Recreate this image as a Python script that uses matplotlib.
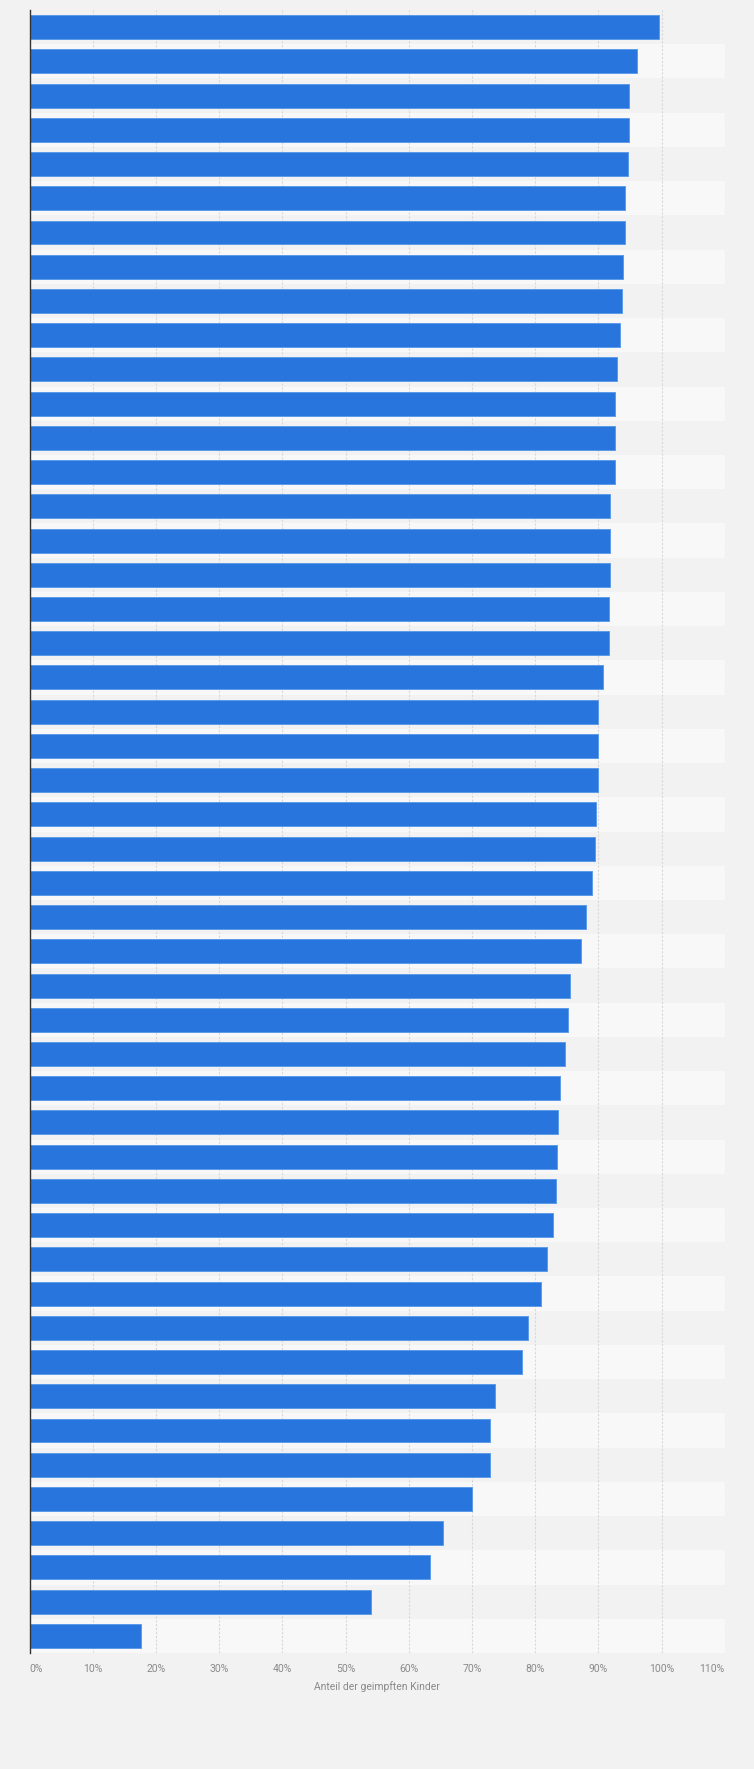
import matplotlib
matplotlib.use("Agg")
import matplotlib.pyplot as plt
import numpy as np

# Share of vaccinated children (%) per category, top to bottom
values = [99.6, 96.2, 94.8, 94.8, 94.65, 94.3, 94.3, 93.9, 93.7, 93.5,
          92.9, 92.6, 92.6, 92.6, 91.8, 91.8, 91.8, 91.65, 91.65, 90.8,
          89.9, 89.9, 89.9, 89.7, 89.4, 88.95, 88.0, 87.2, 85.6, 85.2,
          84.7, 83.9, 83.7, 83.4, 83.3, 82.9, 81.9, 81.0, 78.8, 77.9,
          73.6, 72.8, 72.8, 70.0, 65.5, 63.4, 54.1, 17.6]
x_ticks = [0, 10, 20, 30, 40, 50, 60, 70, 80, 90, 100, 110]
x_tick_labels = [f"{t}%" for t in x_ticks]
x_label = "Anteil der geimpften Kinder"

plt.rcParams['font.family'] = ['Roboto', 'DejaVu Sans']

W, H = 754, 1769
fig = plt.figure(figsize=(W / 100, H / 100), dpi=100)
fig.patch.set_facecolor('#f2f2f2')

left_px, right_px = 29.5, 724.7
top_px, bottom_px = 10, 1653
ax = fig.add_axes([left_px / W, (H - bottom_px) / H,
                   (right_px - left_px) / W, (bottom_px - top_px) / H])
ax.set_facecolor('#f2f2f2')

n = len(values)
y = np.arange(n)
# alternating row bands
for i in range(n):
    ax.axhspan(i - 0.5, i + 0.5, color='#f2f2f2' if i % 2 == 0 else '#f8f8f8',
               zorder=0, lw=0)

for t in x_ticks[1:]:
    ax.axvline(t, color='#d8d8d8', lw=0.8, ls=(0, (2, 1.5)), zorder=1)

ax.barh(y, values, height=0.70, color='#2876dd', edgecolor='#5d9be8',
        linewidth=0.7, zorder=3)

ax.set_xlim(0, 110)
ax.set_ylim(n - 0.5, -0.5)
ax.set_yticks([])
ax.set_xticks(x_ticks)
ax.set_xticklabels(x_tick_labels)
ax.tick_params(axis='x', length=0, pad=8, labelsize=7.5, labelcolor='#8a8a8a')
labels = ax.get_xticklabels()
labels[0].set_horizontalalignment('left')
labels[-1].set_horizontalalignment('right')

for s in ['top', 'right', 'bottom']:
    ax.spines[s].set_visible(False)
ax.spines['left'].set_color('#333333')
ax.spines['left'].set_linewidth(1.0)
ax.spines['left'].set_zorder(5)

fig.text(0.5, (H - 1687) / H, x_label, ha='center', va='center',
         fontsize=7.5, color='#8a8a8a')

fig.savefig('out.png', dpi=100, facecolor=fig.get_facecolor())
